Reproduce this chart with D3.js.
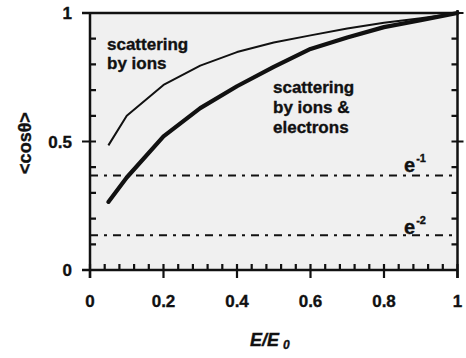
<!DOCTYPE html>
<html><head><meta charset="utf-8">
<script src="https://cdn.jsdelivr.net/npm/d3@7"></script>
<style>
body{margin:0;background:#fff;}
</style></head>
<body><svg id="c" width="466" height="358"></svg>
<script>
const energy = [0.05, 0.1, 0.2, 0.3, 0.4, 0.5, 0.6, 0.7, 0.8, 0.9, 1.0];
const ionsOnly = [0.485, 0.60, 0.72, 0.795, 0.848, 0.885, 0.913, 0.940, 0.962, 0.980, 1.0];
const ionsElectrons = [0.265, 0.36, 0.52, 0.63, 0.715, 0.79, 0.86, 0.905, 0.945, 0.972, 1.0];
const refLevels = [Math.exp(-1), Math.exp(-2)];
const refLabels = ["-1", "-2"];
const xTicks = [0, 0.2, 0.4, 0.6, 0.8, 1];
const xTickLabels = ["0", "0.2", "0.4", "0.6", "0.8", "1"];
const yTicks = [0, 0.5, 1];
const yTickLabels = ["0", "0.5", "1"];

const svg = d3.select("#c");
const x = d3.scaleLinear().domain([0, 1]).range([90, 457.5]);
const y = d3.scaleLinear().domain([0, 1]).range([270, 13]);
const ink = "#111";
const FONT = "'Liberation Sans', Arial, sans-serif";

function txt(sel) {
  return sel.attr("font-family", FONT).attr("font-weight", "bold").attr("fill", ink)
    .attr("stroke", ink).attr("stroke-width", 0.35);
}

// plot background
svg.append("rect").attr("x", x(0)).attr("y", y(1))
  .attr("width", x(1) - x(0)).attr("height", y(0) - y(1)).attr("fill", "#f0f0f0");

const xMinor = d3.range(0, 1.0001, 0.04).map(v => +v.toFixed(2));
const yMinor = d3.range(0, 1.0001, 0.1).map(v => +v.toFixed(2));

// ticks as one path
const p = d3.path();
xMinor.forEach(d => { p.moveTo(x(d), y(0)); p.lineTo(x(d), y(0) - 6); });
xTicks.forEach(d => { p.moveTo(x(d), y(0)); p.lineTo(x(d), y(0) + 8); });
yMinor.forEach(d => { p.moveTo(x(0), y(d)); p.lineTo(x(0) + 6, y(d)); });
yTicks.forEach(d => { p.moveTo(x(0) - 8, y(d)); p.lineTo(x(0), y(d)); });
yMinor.forEach(d => { p.moveTo(x(1) - 6, y(d)); p.lineTo(x(1), y(d)); });
[0.5, 1].forEach(d => { p.moveTo(x(1) - 6, y(d)); p.lineTo(x(1) + 6, y(d)); });
svg.append("path").attr("d", p.toString()).attr("fill", "none")
  .attr("stroke", ink).attr("stroke-width", 2.2);

// frame
const f = d3.path();
f.moveTo(x(0) - 8, y(0)); f.lineTo(x(1), y(0));
f.moveTo(x(0), y(0) + 8); f.lineTo(x(0), y(1));
f.moveTo(x(1), y(0) + 8); f.lineTo(x(1), y(1) - 3);
f.moveTo(x(0) - 8, y(1)); f.lineTo(x(1), y(1));
svg.append("path").attr("d", f.toString()).attr("fill", "none")
  .attr("stroke", ink).attr("stroke-width", 2.5);

// tick labels
svg.selectAll(".xl").data(xTicks).enter().append("text").attr("class", "xl")
  .attr("x", d => x(d)).attr("y", y(0) + 37).attr("text-anchor", "middle").attr("font-size", 17)
  .text((d, i) => xTickLabels[i]).call(txt);
svg.selectAll(".yl").data(yTicks).enter().append("text").attr("class", "yl")
  .attr("x", x(0) - 18).attr("y", d => y(d) + 6).attr("text-anchor", "end").attr("font-size", 17)
  .text((d, i) => yTickLabels[i]).call(txt);

// reference lines
svg.selectAll(".ref").data(refLevels).enter().append("line").attr("class", "ref")
  .attr("x1", x(0)).attr("x2", x(1)).attr("y1", d => y(d)).attr("y2", d => y(d))
  .attr("stroke", ink).attr("stroke-width", 2).attr("stroke-dasharray", "8,6,3,6");

// curves
const line = d3.line().x((d, i) => x(energy[i])).y(d => y(d));
svg.append("path").datum(ionsOnly).attr("d", line).attr("fill", "none")
  .attr("stroke", ink).attr("stroke-width", 2).attr("stroke-linejoin", "round");
svg.append("path").datum(ionsElectrons).attr("d", line).attr("fill", "none")
  .attr("stroke", ink).attr("stroke-width", 4.2).attr("stroke-linecap", "round").attr("stroke-linejoin", "round");

// labels
const t1 = svg.append("text").attr("x", 107).attr("y", 50).attr("font-size", 17).call(txt);
t1.append("tspan").attr("x", 107).text("scattering");
t1.append("tspan").attr("x", 107).attr("dy", 18.5).text("by ions");

const t2 = svg.append("text").attr("x", 273).attr("y", 93).attr("font-size", 17).call(txt);
t2.append("tspan").attr("x", 273).text("scattering");
t2.append("tspan").attr("x", 273).attr("dy", 19.5).text("by ions &");
t2.append("tspan").attr("x", 273).attr("dy", 20).text("electrons");

refLevels.forEach((v, i) => {
  const base = y(v) - (i === 0 ? 3 : 1);
  const t = svg.append("text").attr("x", 404).attr("y", base).attr("font-size", 20).call(txt);
  t.append("tspan").text("e");
  t.append("tspan").attr("font-size", 11).attr("dy", -10).attr("dx", 1).text(refLabels[i]);
});

// axis titles
const xt = svg.append("text").attr("x", 250).attr("y", 346).attr("font-size", 18).attr("font-style", "italic").call(txt);
xt.append("tspan").text("E/E");
xt.append("tspan").attr("font-size", 12).attr("dx", 4).attr("dy", 3).text("0");

svg.append("text").attr("transform", "translate(31,143) rotate(-90)")
  .attr("text-anchor", "middle").attr("font-size", 18).text("<cosθ>").call(txt);
</script></body></html>
